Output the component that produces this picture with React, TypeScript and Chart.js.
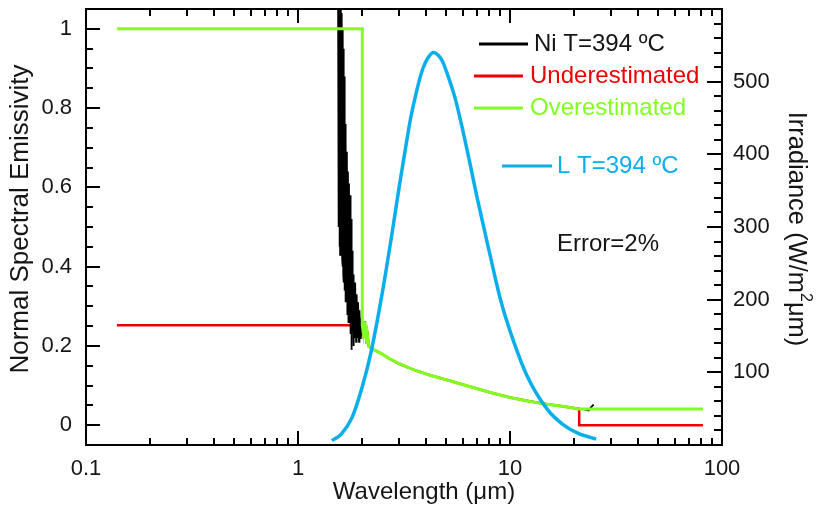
import React, { useEffect, useRef } from 'react';
import { Chart, registerables } from 'chart.js';

Chart.register(...registerables);

const FONT = '"Liberation Sans", Arial, Helvetica, sans-serif';
const TEXT = '#151515';
const BLACK = '#000000';
const RED = '#ee0000';
const GREEN = '#80ff20';
const BLUE = '#0aaeea';

// ---- axis ticks / labels ----
const xMajorTicks = [0.1, 1, 10, 100];
const xMinorMultipliers = [2, 3, 4, 5, 6, 7, 8, 9];
const yLeftTicks = [0, 0.2, 0.4, 0.6, 0.8, 1];
const yRightTicks = [100, 200, 300, 400, 500];

const xTitle = 'Wavelength (\u03bcm)';
const yLeftTitle = 'Normal Spectral Emissivity';
const yRightTitleParts = ['Irradiance (W/m', '2', '\u03bcm)'];
const seriesLabels = ['Ni T=394 \u00baC', 'Underestimated', 'Overestimated', 'L T=394 \u00baC'];
const noteText = 'Error=2%';

// ---- Ni T=394 ºC measured emissivity (noisy band near 1.5-2 µm) ----
const niNoiseLambda = [
  1.545, 1.55, 1.555, 1.56, 1.565, 1.57, 1.575, 1.58, 1.59, 1.595,
  1.6, 1.605, 1.61, 1.615, 1.62, 1.625, 1.63, 1.635, 1.64, 1.645,
  1.65, 1.655, 1.66, 1.665, 1.67, 1.675, 1.68, 1.69, 1.7, 1.71,
  1.72, 1.73, 1.74, 1.75, 1.76, 1.77, 1.78, 1.79, 1.8, 1.81,
  1.82, 1.83, 1.84, 1.85, 1.86, 1.88, 1.89, 1.91, 1.92, 1.94,
  1.95, 1.97, 1.98, 2.0,
];
const niNoiseEmis = [
  1.12, 0.62, 1.1, 0.5, 1.08, 0.45, 1.1, 0.43, 1.06, 0.48,
  1.04, 0.44, 1.02, 0.42, 0.98, 0.4, 1.0, 0.38, 0.95, 0.36,
  0.88, 0.4, 0.82, 0.34, 0.76, 0.31, 0.72, 0.35, 0.69, 0.28,
  0.64, 0.26, 0.61, 0.3, 0.58, 0.23, 0.52, 0.19, 0.44, 0.24,
  0.38, 0.2, 0.35, 0.22, 0.36, 0.21, 0.33, 0.22, 0.31, 0.21,
  0.29, 0.22, 0.27, 0.23,
];
// shared spectral curve (Ni, followed by both bounds between the cut-offs)
const curveLambda = [2.01, 2.03, 2.05, 2.07, 2.09, 2.11, 2.13, 2.16, 2.25, 2.45, 2.7, 3.0, 3.5, 4.2, 5.2, 6.5, 8, 10, 12.5, 15, 18, 21.2];
const curveEmis = [0.252, 0.235, 0.262, 0.22, 0.25, 0.205, 0.225, 0.198, 0.192, 0.182, 0.168, 0.155, 0.14, 0.126, 0.112, 0.097, 0.083, 0.07, 0.06, 0.053, 0.047, 0.041];
// Ni tail beyond the long-wave cut-off
const niTailLambda = [22.5, 23.5, 24.2, 24.8];
const niTailEmis = [0.04, 0.037, 0.046, 0.052];

// ---- bounds ----
const boundStart = 0.14;
const shortCut = 2.01;
const longCut = 21.2;
const boundEnd = 81.3;
const underLow = 0.252;
const underHigh = 0;
const overLow = 1;
const overHigh = 0.041;

// ---- blackbody irradiance L T=394 ºC ----
const blueLambda = [1.445, 1.6, 1.8, 2.0, 2.2, 2.5, 2.8, 3.0, 3.2, 3.4, 3.6, 3.8, 4.0, 4.2, 4.34, 4.6, 4.8, 5.0, 5.5, 6.0, 6.5, 7.0, 8.0, 9.0, 10, 12, 15, 18, 21, 25.5];
const blueIrr = [6, 15, 38, 78, 125, 210, 298, 355, 405, 450, 483, 510, 527, 537, 540, 536, 528, 515, 478, 432, 385, 340, 265, 201, 157, 96, 49, 27, 16, 8];

const pts = (xs: number[], ys: number[]) => xs.map((x, i) => ({ x, y: ys[i] }));
const curvePts = pts(curveLambda, curveEmis);

const niData = [...pts(niNoiseLambda, niNoiseEmis), ...curvePts.slice(1), ...pts(niTailLambda, niTailEmis)];
const underData = [{ x: boundStart, y: underLow }, ...curvePts, { x: longCut, y: underHigh }, { x: boundEnd, y: underHigh }];
const overData = [{ x: boundStart, y: overLow }, { x: shortCut, y: overLow }, ...curvePts, { x: boundEnd, y: overHigh }];
const blueData = pts(blueLambda, blueIrr);

const decorPlugin = {
  id: 'decor',
  afterDatasetsDraw(chart: any) {
    const { ctx, chartArea: a, scales } = chart;
    const sx = scales.x, yl = scales.y, yr = scales.y2;
    ctx.save();
    ctx.strokeStyle = BLACK;
    ctx.lineWidth = 2;
    ctx.strokeRect(a.left, a.top, a.right - a.left, a.bottom - a.top);
    ctx.beginPath();
    const major = 14, minor = 7;
    // x ticks bottom and top
    const xTick = (v: number, len: number) => {
      const p = Math.round(sx.getPixelForValue(v));
      ctx.moveTo(p, a.bottom); ctx.lineTo(p, a.bottom - len);
      ctx.moveTo(p, a.top); ctx.lineTo(p, a.top + len);
    };
    xMajorTicks.forEach((v) => xTick(v, major));
    xMajorTicks.slice(0, -1).forEach((d) => xMinorMultipliers.forEach((m) => xTick(d * m, minor)));
    // left ticks
    for (let i = 0; i <= 20; i++) {
      const v = i * 0.05;
      const p = Math.round(yl.getPixelForValue(v));
      const len = i % 4 === 0 ? major : minor;
      ctx.moveTo(a.left, p); ctx.lineTo(a.left + len, p);
    }
    // right ticks
    for (let v = 20; v < 600; v += 20) {
      const p = Math.round(yr.getPixelForValue(v));
      const len = v % 100 === 0 ? major + 1 : minor + 1;
      ctx.moveTo(a.right, p); ctx.lineTo(a.right - len, p);
    }
    ctx.stroke();

    // legend
    const items = [
      { label: seriesLabels[0], color: BLACK, x0: 479, x1: 528, tx: 534, y: 44 },
      { label: seriesLabels[1], color: RED, x0: 474, x1: 523, tx: 530, y: 76 },
      { label: seriesLabels[2], color: GREEN, x0: 474, x1: 523, tx: 530, y: 108 },
      { label: seriesLabels[3], color: BLUE, x0: 502, x1: 552, tx: 557, y: 166 },
    ];
    ctx.font = `24px ${FONT}`;
    ctx.textBaseline = 'middle';
    ctx.textAlign = 'left';
    items.forEach((it) => {
      ctx.strokeStyle = it.color;
      ctx.lineWidth = 3;
      ctx.beginPath(); ctx.moveTo(it.x0, it.y); ctx.lineTo(it.x1, it.y); ctx.stroke();
      ctx.fillStyle = it.color === BLACK ? TEXT : it.color;
      ctx.fillText(it.label, it.tx, it.y);
    });
    ctx.fillStyle = TEXT;
    ctx.fillText(noteText, 557, 244);

    // axis titles
    ctx.font = `24px ${FONT}`;
    ctx.textAlign = 'center';
    ctx.fillText(xTitle, 424, 492);
    ctx.save();
    ctx.translate(21, 219);
    ctx.rotate(-Math.PI / 2);
    ctx.font = `26px ${FONT}`;
    ctx.fillText(yLeftTitle, 0, 0);
    ctx.restore();

    ctx.save();
    ctx.translate(796, 229);
    ctx.rotate(Math.PI / 2);
    const fonts = [`25.5px ${FONT}`, `16px ${FONT}`, `25.5px ${FONT}`];
    const dy = [0, -9, 0];
    const widths = yRightTitleParts.map((t, i) => { ctx.font = fonts[i]; return ctx.measureText(t).width; });
    let px = -widths.reduce((s, w) => s + w, 0) / 2;
    ctx.textAlign = 'left';
    yRightTitleParts.forEach((t, i) => { ctx.font = fonts[i]; ctx.fillText(t, px, dy[i]); px += widths[i]; });
    ctx.restore();

    ctx.restore();
  },
};

const zeroPad = (s: any) => {
  s.paddingTop = 0; s.paddingBottom = 0; s.paddingLeft = 0; s.paddingRight = 0;
};

export default function App() {
  const ref = useRef<HTMLCanvasElement>(null);
  useEffect(() => {
    document.body.style.margin = '0';
    const tickFont = { family: FONT, size: 22 };
    const chart = new Chart(ref.current as HTMLCanvasElement, {
      type: 'line',
      data: {
        datasets: [
          { label: seriesLabels[0], data: niData, borderColor: BLACK, borderWidth: 1.8, pointRadius: 0, yAxisID: 'y', order: 3 },
          { label: seriesLabels[1], data: underData, borderColor: RED, borderWidth: 2.5, pointRadius: 0, yAxisID: 'y', order: 4 },
          { label: seriesLabels[2], data: overData, borderColor: GREEN, borderWidth: 3, pointRadius: 0, yAxisID: 'y', order: 2 },
          { label: seriesLabels[3], data: blueData, borderColor: BLUE, borderWidth: 3.5, pointRadius: 0, yAxisID: 'y2', order: 1, cubicInterpolationMode: 'monotone' },
        ],
      },
      options: {
        responsive: false,
        animation: false,
        layout: { padding: { top: 9, left: 0, right: 0, bottom: 0 } },
        plugins: { legend: { display: false }, tooltip: { enabled: false } },
        scales: {
          x: {
            type: 'logarithmic', min: 0.1, max: 100, position: 'bottom',
            grid: { display: false, drawTicks: false }, border: { display: false },
            afterBuildTicks: (s: any) => { s.ticks = xMajorTicks.map((v) => ({ value: v })); },
            afterFit: (s: any) => { s.height = 69; zeroPad(s); },
            ticks: { font: tickFont, color: TEXT, padding: 11, autoSkip: false, maxRotation: 0, callback: (v: any) => String(v) },
          },
          y: {
            type: 'linear', position: 'left', min: -0.05, max: 1.05,
            grid: { display: false, drawTicks: false }, border: { display: false },
            afterBuildTicks: (s: any) => { s.ticks = yLeftTicks.map((v) => ({ value: v })); },
            afterFit: (s: any) => { s.width = 86; zeroPad(s); },
            ticks: { font: tickFont, color: TEXT, padding: 14, callback: (v: any) => String(v) },
          },
          y2: {
            type: 'linear', position: 'right', min: 0, max: 600,
            grid: { display: false, drawTicks: false }, border: { display: false },
            afterBuildTicks: (s: any) => { s.ticks = yRightTicks.map((v) => ({ value: v })); },
            afterFit: (s: any) => { s.width = 94; zeroPad(s); },
            ticks: { font: tickFont, color: TEXT, padding: 11, callback: (v: any) => String(v) },
          },
        },
      },
      plugins: [decorPlugin],
    } as any);
    return () => chart.destroy();
  }, []);
  return (
    <div style={{ width: 816, height: 514, background: '#fff' }}>
      <canvas ref={ref} width={816} height={514} style={{ display: 'block' }} />
    </div>
  );
}
